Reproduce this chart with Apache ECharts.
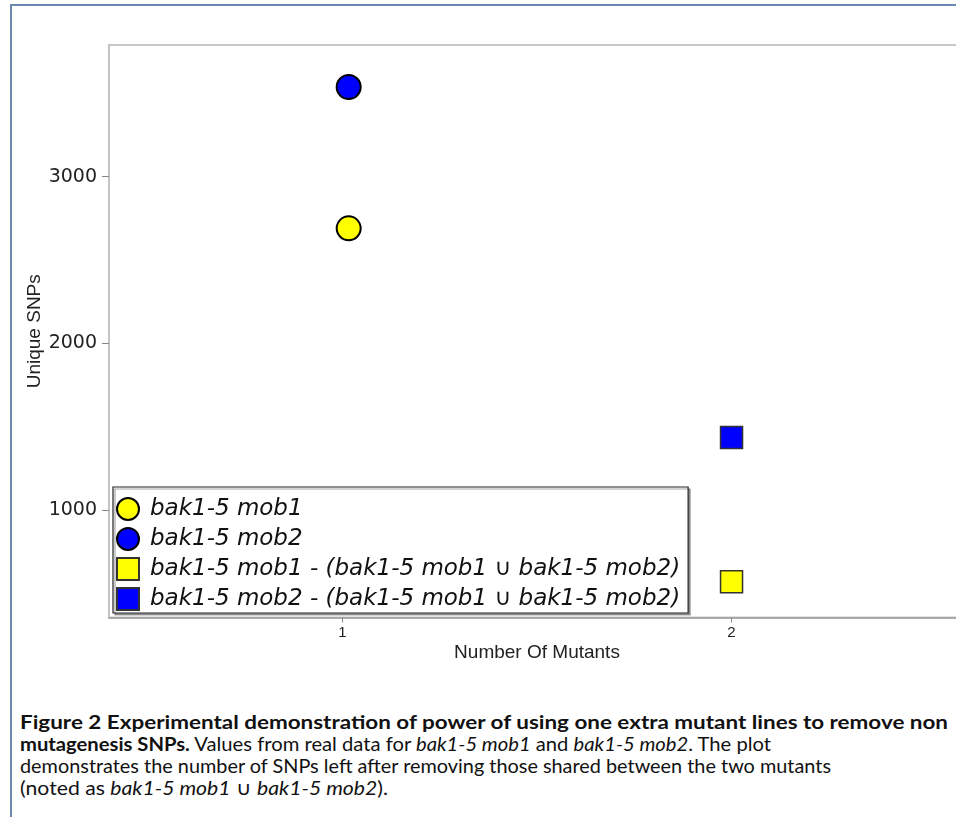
<!DOCTYPE html>
<html><head><meta charset="utf-8">
<script src="https://cdn.jsdelivr.net/npm/echarts@6/dist/echarts.min.js"></script>
<style>
html,body{margin:0;padding:0;background:#fff;width:956px;height:817px;overflow:hidden;}
#frame{position:absolute;left:10px;top:4px;width:1000px;height:900px;border-left:2px solid #6a87ad;border-top:2px solid #6a87ad;}
#chart{position:absolute;left:0;top:0;width:965px;height:680px;}
#caption{position:absolute;left:20px;top:711px;font-family:Lato, sans-serif;font-size:19px;line-height:22px;color:#111;}
#caption .ln{white-space:nowrap;transform-origin:0 0;width:max-content;height:22px;}
</style></head>
<body>
<div id="frame"></div>
<div id="chart"></div>
<div id="caption">
<div class="ln"><b>Figure 2 Experimental demonstration of power of using one extra mutant lines to remove non</b></div>
<div class="ln"><b>mutagenesis SNPs.</b> Values from real data for <i>bak1-5 mob1</i> and <i>bak1-5 mob2</i>. The plot</div>
<div class="ln">demonstrates the number of SNPs left after removing those shared between the two mutants</div>
<div class="ln">(noted as <i>bak1-5 mob1</i> ∪ <i>bak1-5 mob2</i>).</div>
</div>
<script>
// ---- data ----
const seriesNames = [
  'bak1-5 mob1',
  'bak1-5 mob2',
  'bak1-5 mob1 - (bak1-5 mob1 \u222A bak1-5 mob2)',
  'bak1-5 mob2 - (bak1-5 mob1 \u222A bak1-5 mob2)'
];
const mob1X = [1.016];
const mob1Y = [2690];
const mob2X = [1.016];
const mob2Y = [3538];
const diff1X = [2];
const diff1Y = [569];
const diff2X = [2];
const diff2Y = [1435];
const xTicks = [1, 2];
const yTicks = [1000, 2000, 3000];

// ---- caption fitting ----
const lineEnds = [948, 771, 831, 388];
document.querySelectorAll('#caption .ln').forEach((el, i) => {
  const w = el.getBoundingClientRect().width;
  const target = lineEnds[i] - 20;
  el.style.transform = 'scaleX(' + (target / w) + ')';
});

const pts = (xs, ys) => xs.map((x, i) => [x, ys[i]]);
const chart = echarts.init(document.getElementById('chart'), null, {renderer: 'canvas'});
const circleStyle = (c) => ({color: c, opacity: 1, borderColor: '#000', borderWidth: 2});
const squareStyle = (c) => ({color: c, opacity: 1, borderColor: '#333', borderWidth: 1.5});
chart.setOption({
  animation: false,
  backgroundColor: 'transparent',
  grid: {left: 109, top: 45, right: 0, bottom: 62.5, show: true, borderColor: '#c8c8c8', borderWidth: 2},
  xAxis: {
    type: 'value', min: 0.4, max: 2.6,
    axisLine: {show: true, onZero: false, lineStyle: {color: '#9a9a9a', width: 1.5}},
    axisTick: {show: true, length: 5, customValues: xTicks, lineStyle: {color: '#888'}},
    axisLabel: {customValues: xTicks, formatter: (v) => String(v), fontSize: 15, fontFamily: 'Liberation Sans', color: '#222', margin: 8},
    splitLine: {show: false},
    name: 'Number Of Mutants', nameLocation: 'middle', nameGap: 26, nameMoveOverlap: false,
    nameTextStyle: {fontSize: 19, fontFamily: 'Liberation Sans', color: '#222'}
  },
  yAxis: {
    type: 'value', min: 355, max: 3790,
    axisLine: {show: true, onZero: false, lineStyle: {color: '#c4c4c4', width: 2}},
    axisTick: {show: true, length: 7, customValues: yTicks, lineStyle: {color: '#888'}},
    axisLabel: {customValues: yTicks, formatter: (v) => String(v), fontSize: 19, fontFamily: 'DejaVu Sans', color: '#222', margin: 12},
    splitLine: {show: false},
    name: 'Unique SNPs', nameLocation: 'middle', nameGap: 65, nameRotate: 90, nameMoveOverlap: false,
    nameTextStyle: {fontSize: 19, fontFamily: 'Liberation Sans', color: '#222'}
  },
  legend: {
    data: seriesNames, orient: 'vertical', left: 113, top: 487,
    itemWidth: 22, itemHeight: 22, itemGap: 6,
    padding: [10, 8, 2, 3], backgroundColor: '#fff', borderColor: '#222', borderWidth: 1.2,
    shadowColor: 'rgba(0,0,0,0.35)', shadowOffsetX: 2, shadowOffsetY: 2, shadowBlur: 0,
    selectedMode: false,
    textStyle: {fontFamily: 'DejaVu Sans', fontStyle: 'italic', fontSize: 23, lineHeight: 22, color: '#111', padding: [0, 0, 0, 6]}
  },
  series: [
    {name: seriesNames[0], type: 'scatter', symbol: 'circle', symbolSize: 24, itemStyle: circleStyle('#ffff00'), data: pts(mob1X, mob1Y)},
    {name: seriesNames[1], type: 'scatter', symbol: 'circle', symbolSize: 24, itemStyle: circleStyle('#0000ff'), data: pts(mob2X, mob2Y)},
    {name: seriesNames[2], type: 'scatter', symbol: 'rect', symbolSize: 22, itemStyle: squareStyle('#ffff00'), data: pts(diff1X, diff1Y)},
    {name: seriesNames[3], type: 'scatter', symbol: 'rect', symbolSize: 22, itemStyle: squareStyle('#0000ff'), data: pts(diff2X, diff2Y)}
  ]
});
</script>
</body></html>
